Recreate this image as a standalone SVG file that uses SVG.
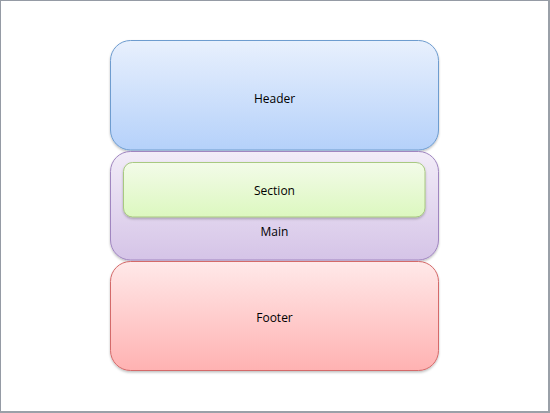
<svg xmlns="http://www.w3.org/2000/svg" width="550" height="413" viewBox="0 0 550 413">
<defs>
<linearGradient id="gH" x1="0" y1="0" x2="0" y2="1"><stop offset="0" stop-color="#e8f0fd"/><stop offset="1" stop-color="#b5d1fa"/></linearGradient>
<linearGradient id="gM" x1="0" y1="0" x2="0" y2="1"><stop offset="0" stop-color="#f2ecf8"/><stop offset="1" stop-color="#d5c4e7"/></linearGradient>
<linearGradient id="gS" x1="0" y1="0" x2="0" y2="1"><stop offset="0" stop-color="#f3fbe9"/><stop offset="1" stop-color="#dcf8bf"/></linearGradient>
<linearGradient id="gF" x1="0" y1="0" x2="0" y2="1"><stop offset="0" stop-color="#ffe9e9"/><stop offset="1" stop-color="#ffb2b2"/></linearGradient>
<filter id="sh" x="-5%" y="-5%" width="110%" height="115%"><feDropShadow dx="0" dy="1.5" stdDeviation="1.2" flood-color="#000" flood-opacity="0.25"/></filter>
</defs>
<style>
text{font-family:"Open Sans","DejaVu Sans",sans-serif;font-size:12px;fill:#000;text-anchor:middle}
</style>
<rect x="0.5" y="0.5" width="548" height="411" fill="#fff" stroke="#959ba5" stroke-width="1"/>
<rect x="548" y="0" width="2" height="413" fill="#9aa0a8"/>
<rect x="0" y="411" width="550" height="2" fill="#9aa0a8"/>
<g id="header">
<rect x="110.5" y="40.5" width="328" height="109.5" rx="20" fill="url(#gH)" stroke="#6e9ccf" filter="url(#sh)"/>
<text x="274.5" y="102.5">Header</text>
</g>
<g id="main">
<rect x="110.5" y="151.5" width="328" height="108.5" rx="20" fill="url(#gM)" stroke="#a086c0" filter="url(#sh)"/>
<text x="274.5" y="236">Main</text>
</g>
<g id="section">
<rect x="123.5" y="162.5" width="301.5" height="54.5" rx="9" fill="url(#gS)" stroke="#a8c981" filter="url(#sh)"/>
<text x="274.5" y="195">Section</text>
</g>
<g id="footer">
<rect x="110.5" y="261.5" width="328" height="109" rx="20" fill="url(#gF)" stroke="#d46a6a" filter="url(#sh)"/>
<text x="274.5" y="322">Footer</text>
</g>
<g id="connectors"/>
</svg>
